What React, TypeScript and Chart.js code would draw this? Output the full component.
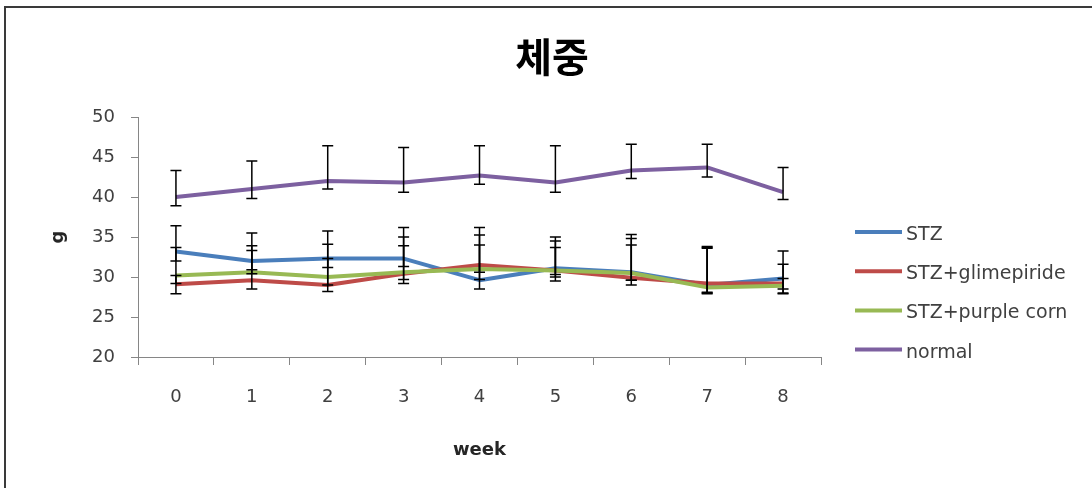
import React, { useEffect, useRef } from 'react';
import { Chart, registerables, layouts } from 'chart.js';

Chart.register(...registerables);

// Body weight (g) by week
const weeks = ['0', '1', '2', '3', '4', '5', '6', '7', '8'];
const seriesNames = ['STZ', 'STZ+glimepiride', 'STZ+purple corn', 'normal'];
const seriesColors = ['#4A7EBB', '#BE4B48', '#98B954', '#7D60A0'];

const stzMean = [33.2, 32.0, 32.3, 32.3, 29.6, 31.1, 30.6, 29.0, 29.8];
const stzHigh = [36.4, 35.5, 35.75, 36.2, 34.0, 35.0, 35.3, 33.8, 33.25];
const stzLow = [32.0, 30.9, 31.2, 31.3, 28.5, 30.0, 29.0, 28.1, 28.5];

const glimeMean = [29.1, 29.6, 29.0, 30.4, 31.5, 30.8, 29.9, 29.2, 29.2];
const glimeHigh = [30.2, 33.3, 34.1, 33.9, 36.2, 33.7, 34.0, 33.7, 31.6];
const glimeLow = [27.9, 28.5, 28.2, 29.2, 30.6, 30.3, 29.6, 28.0, 28.0];

const cornMean = [30.2, 30.6, 30.0, 30.6, 31.0, 30.8, 30.5, 28.7, 28.9];
const cornHigh = [33.7, 33.9, 32.3, 35.0, 35.25, 34.5, 34.8, 33.6, 29.8];
const cornLow = [29.2, 30.4, 29.0, 29.7, 29.7, 29.5, 29.6, 27.9, 27.9];

const normalMean = [40.0, 41.0, 42.0, 41.8, 42.7, 41.8, 43.3, 43.7, 40.6];
const normalHigh = [43.3, 44.5, 46.4, 46.2, 46.4, 46.4, 46.6, 46.6, 43.7];
const normalLow = [38.9, 39.8, 41.0, 40.6, 41.6, 40.6, 42.3, 42.5, 39.7];

const yMin = 20;
const yMax = 50;
const yStep = 5;

const axisColor = '#868686';
const textColor = '#404040';
const tickFont = { family: '"DejaVu Sans"', size: 18 };
const axisTitleFont = { family: '"DejaVu Sans"', size: 18, weight: 'bold' as const };

// Vertical error bars with caps, drawn from each dataset's errHigh / errLow bounds
const errorBarsPlugin = {
  id: 'errorBars',
  afterDatasetsDraw(chart: any) {
    const { ctx } = chart;
    const xs = chart.scales.x;
    const ys = chart.scales.y;
    const cap = 5.5;
    ctx.save();
    ctx.strokeStyle = '#000000';
    ctx.lineWidth = 1.5;
    chart.data.datasets.forEach((ds: any) => {
      ds.errHigh.forEach((hi: number, i: number) => {
        const lo = ds.errLow[i];
        const px = xs.getPixelForValue(i);
        const pHi = ys.getPixelForValue(hi);
        const pLo = ys.getPixelForValue(lo);
        ctx.beginPath();
        ctx.moveTo(px, pHi);
        ctx.lineTo(px, pLo);
        ctx.moveTo(px - cap, pHi);
        ctx.lineTo(px + cap, pHi);
        ctx.moveTo(px - cap, pLo);
        ctx.lineTo(px + cap, pLo);
        ctx.stroke();
      });
    });
    ctx.restore();
  },
};

// Legend placed as a layout box on the right of the plot area
const sideLegendPlugin = {
  id: 'sideLegend',
  beforeInit(chart: any) {
    const box: any = {
      position: 'right',
      weight: 1000,
      fullSize: false,
      options: {},
      left: 0,
      top: 0,
      right: 0,
      bottom: 0,
      width: 0,
      height: 0,
      isHorizontal: () => false,
      update(_maxWidth: number, maxHeight: number) {
        box.width = 271;
        box.height = maxHeight;
      },
      draw() {
        const ctx = chart.ctx;
        const x0 = box.left + 34;
        ctx.save();
        ctx.font = '19px "DejaVu Sans"';
        ctx.textBaseline = 'middle';
        ctx.textAlign = 'left';
        chart.data.datasets.forEach((ds: any, i: number) => {
          const yRow = box.top + 118 + i * 39.2;
          ctx.strokeStyle = ds.borderColor;
          ctx.lineWidth = 4;
          ctx.beginPath();
          ctx.moveTo(x0, yRow - 3);
          ctx.lineTo(x0 + 47, yRow - 3);
          ctx.stroke();
          ctx.fillStyle = textColor;
          ctx.fillText(ds.label, x0 + 51, yRow);
        });
        ctx.restore();
      },
    };
    layouts.addBox(chart, box);
  },
};

function makeSeries(i: number, data: number[], hi: number[], lo: number[]) {
  return {
    label: seriesNames[i],
    data,
    errHigh: hi,
    errLow: lo,
    borderColor: seriesColors[i],
    backgroundColor: seriesColors[i],
    borderWidth: 4,
    pointRadius: 0,
    pointHoverRadius: 0,
    tension: 0,
    fill: false,
    borderJoinStyle: 'round' as const,
    order: 4 - i,
  };
}

function WeightChart() {
  const ref = useRef<HTMLCanvasElement | null>(null);

  useEffect(() => {
    if (!ref.current) return;
    const chart = new Chart(ref.current, {
      type: 'line',
      data: {
        labels: weeks,
        datasets: [
          makeSeries(0, stzMean, stzHigh, stzLow),
          makeSeries(1, glimeMean, glimeHigh, glimeLow),
          makeSeries(2, cornMean, cornHigh, cornLow),
          makeSeries(3, normalMean, normalHigh, normalLow),
        ] as any,
      },
      options: {
        animation: false,
        responsive: false,
        events: [],
        layout: { padding: { left: 12, right: 0, top: 0, bottom: 0 } },
        plugins: {
          legend: { display: false },
          tooltip: { enabled: false },
          title: {
            display: true,
            text: '체중',
            color: '#000000',
            font: { family: '"Noto Sans CJK KR"', size: 40, weight: 'bold' },
            padding: { top: 32.3, bottom: 36.7 },
          },
        },
        scales: {
          x: {
            type: 'category',
            offset: true,
            grid: {
              display: true,
              offset: true,
              drawOnChartArea: false,
              drawTicks: true,
              tickLength: 8,
              color: axisColor,
              lineWidth: 1,
            },
            border: { display: true, color: axisColor, width: 1 },
            ticks: {
              font: tickFont,
              color: textColor,
              padding: 22,
              autoSkip: false,
              maxRotation: 0,
            },
            title: {
              display: true,
              text: 'week',
              color: '#262626',
              font: axisTitleFont,
              padding: { top: 0, bottom: 26.4 },
            },
            afterFit(s: any) {
              s.height = 131;
            },
          },
          y: {
            min: yMin,
            max: yMax,
            ticks: {
              stepSize: yStep,
              font: tickFont,
              color: textColor,
              padding: 16,
            },
            grid: {
              display: true,
              drawOnChartArea: false,
              drawTicks: true,
              tickLength: 7,
              color: axisColor,
              lineWidth: 1,
            },
            border: { display: true, color: axisColor, width: 1 },
            title: {
              display: true,
              text: 'g',
              color: '#262626',
              font: axisTitleFont,
              padding: { top: 36, bottom: 0 },
            },
            afterFit(s: any) {
              s.width = 126;
            },
          },
        },
      } as any,
      plugins: [errorBarsPlugin, sideLegendPlugin],
    });
    return () => chart.destroy();
  }, []);

  return (
    <div style={{ position: 'fixed', left: 0, top: 0, width: 1092, height: 488, background: '#ffffff' }}>
      <canvas ref={ref} width={1092} height={488} style={{ position: 'absolute', left: 0, top: 0 }} />
      <div
        style={{
          position: 'absolute',
          left: 4,
          top: 6,
          right: 0,
          bottom: 0,
          borderTop: '2px solid #3a3a3a',
          borderLeft: '2px solid #3a3a3a',
          pointerEvents: 'none',
        }}
      />
    </div>
  );
}

export default function App() {
  return <WeightChart />;
}
